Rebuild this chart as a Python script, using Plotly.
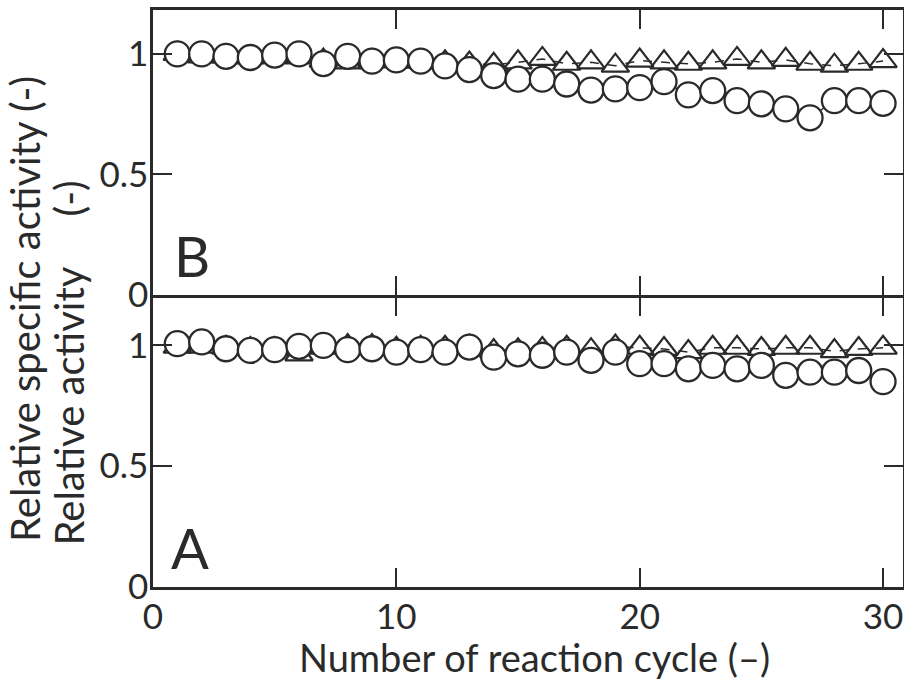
import plotly.graph_objects as go

cycles = list(range(1, 31))

# Panel B: relative specific activity
b_circle = [1.0, 1.0, 0.99, 0.985, 0.995, 1.0, 0.96, 0.99, 0.97, 0.975,
            0.97, 0.95, 0.935, 0.91, 0.895, 0.895, 0.875, 0.85, 0.855, 0.86,
            0.885, 0.83, 0.848, 0.806, 0.793, 0.772, 0.735, 0.806, 0.806, 0.795]
b_triangle = [1.0, 0.99, 0.99, 0.985, 0.99, 0.985, 0.972, 0.965, 0.97, 0.97,
              0.968, 0.965, 0.96, 0.955, 0.965, 0.979, 0.959, 0.965, 0.951, 0.972,
              0.965, 0.959, 0.965, 0.979, 0.965, 0.975, 0.959, 0.951, 0.959, 0.97]

# Panel A: relative activity
a_circle = [1.007, 1.014, 0.986, 0.979, 0.982, 0.996, 1.0, 0.982, 0.986, 0.972,
            0.982, 0.972, 0.993, 0.951, 0.965, 0.959, 0.972, 0.938, 0.972, 0.924,
            0.924, 0.903, 0.917, 0.903, 0.917, 0.876, 0.889, 0.889, 0.896, 0.85]
a_triangle = [0.995, 0.995, 0.99, 0.985, 0.985, 0.963, 0.99, 0.997, 0.997, 0.986,
              0.99, 0.99, 0.995, 0.976, 0.979, 0.985, 0.99, 0.98, 0.995, 0.99,
              0.985, 0.972, 0.99, 0.99, 0.985, 0.99, 0.99, 0.976, 0.985, 0.99]

x_ticks = [0, 10, 20, 30]
y_ticks = [0, 0.5, 1]
y_ticktext = ["0", "0.5", "1"]

INK = "#2a2a2a"
FONT = "Lato"
LW = 2.5

W, H = 904, 683
L, R, T, B = 153, 1, 10, 96
PW, PH = W - L - R, H - T - B


def px_x(px):
    return (px - L) / PW


def px_y(py):
    return (H - B - py) / PH


fig = go.Figure()

for xa, ya, tri, circ in [("x", "y", a_triangle, a_circle), ("x2", "y2", b_triangle, b_circle)]:
    fig.add_trace(go.Scatter(
        x=cycles, y=tri, xaxis=xa, yaxis=ya, mode="lines+markers",
        line=dict(color=INK, width=1.5, dash="dash"),
        marker=dict(symbol="triangle-up-open", size=24, color=INK, line=dict(width=2.2, color=INK)),
        showlegend=False, hoverinfo="skip", cliponaxis=False))
    fig.add_trace(go.Scatter(
        x=cycles, y=circ, xaxis=xa, yaxis=ya, mode="lines+markers",
        line=dict(color=INK, width=1.5),
        marker=dict(symbol="circle", size=25, color="white", line=dict(width=2.3, color=INK)),
        showlegend=False, hoverinfo="skip", cliponaxis=False))

split_a = px_y(297.5)
split_b = split_a + LW / PH

axis_common = dict(showline=True, linewidth=LW, linecolor=INK, mirror="ticks",
                   ticks="inside", ticklen=19, tickwidth=2.2, tickcolor=INK,
                   showgrid=False, zeroline=False, automargin=False,
                   tickfont=dict(family=FONT, size=35, color=INK))

fig.update_layout(
    width=W, height=H,
    margin=dict(l=L, r=R, t=T, b=B),
    paper_bgcolor="white", plot_bgcolor="white",
    font=dict(family=FONT, color=INK),
    xaxis=dict(domain=[0, 1], range=[0, 30.82], tickvals=x_ticks, anchor="y",
               ticklabelstandoff=-3, **axis_common),
    yaxis=dict(domain=[0, split_a], range=[0, 1.198], tickvals=y_ticks, ticktext=y_ticktext,
               anchor="x", ticklabelstandoff=-5, **axis_common),
    xaxis2=dict(domain=[0, 1], range=[0, 30.82], tickvals=x_ticks, anchor="y2",
                showticklabels=False, matches="x", **axis_common),
    yaxis2=dict(domain=[split_b, 1], range=[0, 1.182], tickvals=y_ticks, ticktext=y_ticktext,
                anchor="x2", ticklabelstandoff=-5, **axis_common),
)

NB = "\u00a0"
annotations = [
    dict(text="Number of reaction cycle (\u2013)", x=px_x(534), y=px_y(657), xanchor="center", yanchor="middle",
         font=dict(family=FONT, size=38, color=INK)),
    dict(text="Relative specific activity (-)", x=px_x(25), y=px_y(544), xanchor="center", yanchor="bottom",
         textangle=-90, font=dict(family=FONT, size=40, color=INK)),
    dict(text="Relative activity" + NB * 5 + "(-)", x=px_x(68), y=px_y(548), xanchor="center", yanchor="bottom",
         textangle=-90, font=dict(family=FONT, size=40, color=INK)),
    dict(text="B", x=px_x(192), y=px_y(256), xanchor="center", yanchor="middle",
         font=dict(family=FONT, size=56, color=INK)),
    dict(text="A", x=px_x(190), y=px_y(547), xanchor="center", yanchor="middle",
         font=dict(family=FONT, size=56, color=INK)),
]
for a in annotations:
    a.update(xref="paper", yref="paper", showarrow=False)
fig.update_layout(annotations=annotations)

fig.write_html("out.html", config={"displayModeBar": False},
               post_script="document.body.style.margin='0';document.body.style.overflow='hidden';")
